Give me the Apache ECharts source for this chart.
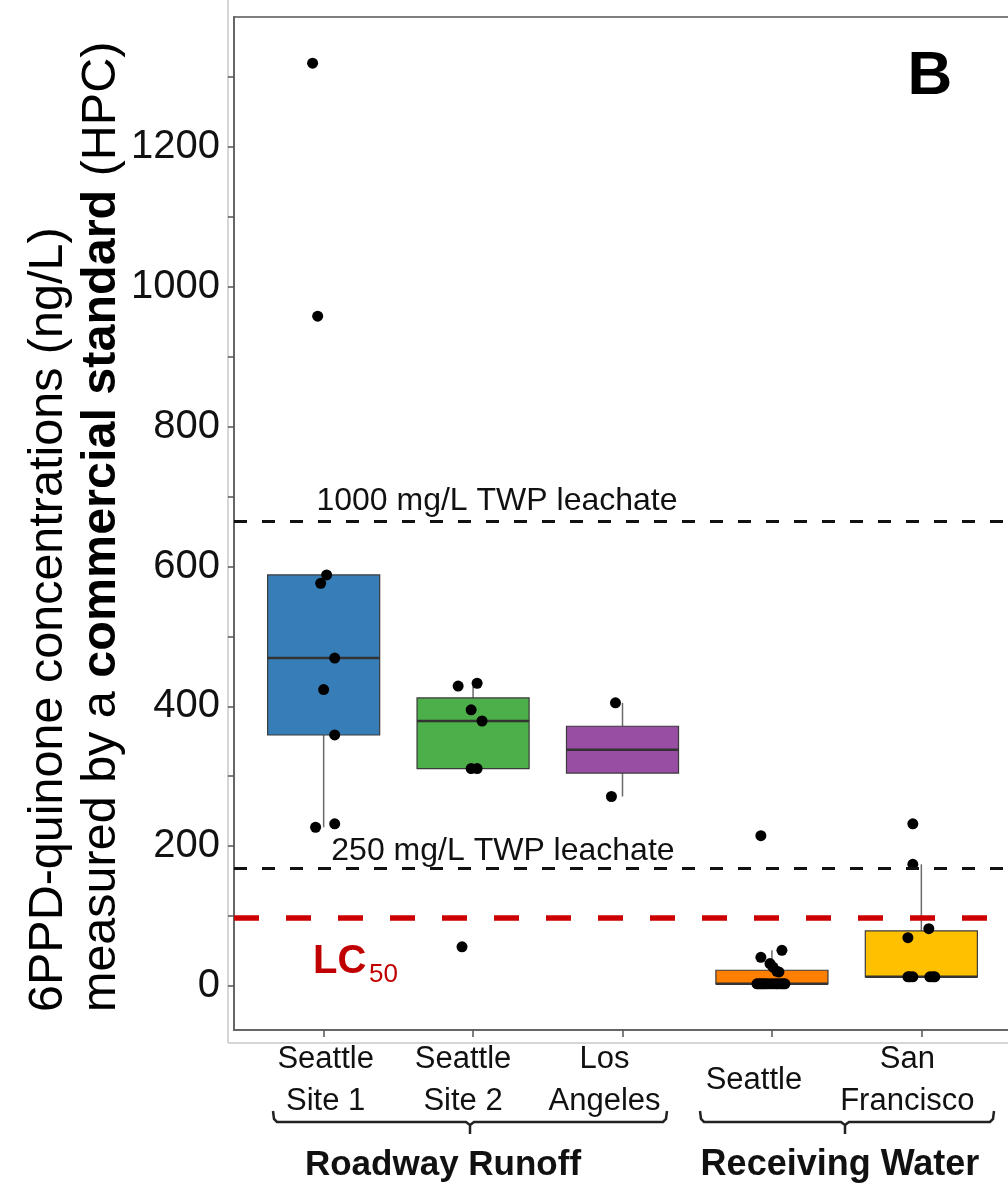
<!DOCTYPE html>
<html>
<head>
<meta charset="utf-8">
<title>6PPD-quinone (HPC)</title>
<script src="https://cdn.jsdelivr.net/npm/echarts@6.0.0/dist/echarts.min.js"></script>
<style>
  html, body { margin: 0; padding: 0; background: #fff; }
  #main { width: 1008px; height: 1187px; }
</style>
</head>
<body>
<div id="main"></div>
<script>
// sites along the x axis
var categories = ['Seattle\nSite 1', 'Seattle\nSite 2', 'Los\nAngeles', 'Seattle', 'San\nFrancisco'];
var groupNames = ['Roadway Runoff', 'Receiving Water'];
var boxColors = ['#377EB8', '#4DAF4A', '#984EA3', '#FF7F00', '#FFC000'];

// measured concentrations (ng/L) and jitter (in category units)
var seattleSite1 = [1320, 958, 588, 576, 469, 424, 359, 227, 232];
var seattleSite1Jitter = [-0.074, -0.04, 0.02, -0.02, 0.074, 0, 0.074, -0.054, 0.074];
var seattleSite2 = [429, 433, 395, 379, 311, 311, 56];
var seattleSite2Jitter = [-0.1, 0.027, -0.013, 0.06, -0.013, 0.027, -0.074];
var losAngeles = [405, 271];
var losAngelesJitter = [-0.047, -0.074];
var seattleRW = [215, 51, 41, 32, 27, 21, 20, 3, 3, 3, 3, 3, 3, 3, 3, 3, 3, 3, 3, 3];
var seattleRWJitter = [-0.074, 0.067, -0.074, -0.013, 0.007, 0.033, 0.047,
  -0.1, -0.087, -0.074, -0.06, -0.047, -0.033, -0.013, 0.007, 0.027, 0.04, 0.06, 0.074, 0.087];
var sanFrancisco = [232, 174, 82, 69, 13, 13, 13, 13, 13, 13];
var sanFranciscoJitter = [-0.057, -0.057, 0.05, -0.09, -0.09, -0.077, -0.057, 0.057, 0.077, 0.09];

// reference levels: 1000 mg/L leachate, 250 mg/L leachate, LC50
var refLines = [665, 168, 97];
var refLabels = ['1000 mg/L TWP leachate', '250 mg/L TWP leachate'];

var yTicks = [0, 100, 200, 300, 400, 500, 600, 700, 800, 900, 1000, 1100, 1200, 1300];
var yLabels = [0, 200, 400, 600, 800, 1000, 1200];
var xTicks = [1, 2, 3, 4, 5];

var allValues = [seattleSite1, seattleSite2, losAngeles, seattleRW, sanFrancisco];
var allJitter = [seattleSite1Jitter, seattleSite2Jitter, losAngelesJitter, seattleRWJitter, sanFranciscoJitter];

var FONT = '"Liberation Sans", Arial, sans-serif';

// quantile like R type 7
function quantile(sorted, p) {
  var pos = (sorted.length - 1) * p;
  var lo = Math.floor(pos);
  var hi = Math.ceil(pos);
  return sorted[lo] + (sorted[hi] - sorted[lo]) * (pos - lo);
}

function boxStats(values, x) {
  var s = values.slice().sort(function (a, b) { return a - b; });
  var q1 = quantile(s, 0.25), med = quantile(s, 0.5), q3 = quantile(s, 0.75);
  var iqr = q3 - q1;
  var lo = s.filter(function (v) { return v >= q1 - 1.5 * iqr; })[0];
  var up = s.filter(function (v) { return v <= q3 + 1.5 * iqr; });
  var hi = up[up.length - 1];
  return [x, lo, q1, med, q3, hi];
}

var boxData = allValues.map(function (vals, i) { return boxStats(vals, i + 1); });

var pointData = [];
allValues.forEach(function (vals, i) {
  vals.forEach(function (v, j) {
    pointData.push([i + 1 + allJitter[i][j], v]);
  });
});

function renderBox(params, api) {
  var x = api.value(0);
  var hw = 0.375;
  var lo = api.coord([x, api.value(1)]);
  var q1 = api.coord([x - hw, api.value(2)]);
  var m1 = api.coord([x - hw, api.value(3)]);
  var m2 = api.coord([x + hw, api.value(3)]);
  var q3 = api.coord([x + hw, api.value(4)]);
  var hi = api.coord([x, api.value(5)]);
  var whisker = { stroke: '#6b6b6b', lineWidth: 1.5 };
  return {
    type: 'group',
    children: [
      { type: 'line', shape: { x1: lo[0], y1: lo[1], x2: lo[0], y2: q1[1] }, style: whisker },
      { type: 'line', shape: { x1: hi[0], y1: q3[1], x2: hi[0], y2: hi[1] }, style: whisker },
      { type: 'rect', shape: { x: q1[0], y: q3[1], width: q3[0] - q1[0], height: q1[1] - q3[1] },
        style: { fill: boxColors[params.dataIndex], stroke: '#3a3a3a', lineWidth: 1.2 } },
      { type: 'line', shape: { x1: m1[0], y1: m1[1], x2: m2[0], y2: m2[1] },
        style: { stroke: '#333', lineWidth: 2.5 } }
    ]
  };
}

// label shifts (right padding) so labels sit like in the figure
var labelPad = [[0, 0, 0, 4], [0, 20, 0, 0], [0, 36, 0, 0], [0, 36, 0, 0], [0, 28, 0, 0]];
var richX = {};
labelPad.forEach(function (p, i) {
  richX['c' + i] = { fontSize: 31, lineHeight: 42, fontFamily: FONT, color: '#111', padding: p };
});

var chart = echarts.init(document.getElementById('main'), null, { renderer: 'canvas' });

var option = {
  backgroundColor: '#fff',
  animation: false,
  grid: {
    left: 234,
    top: 17,
    right: -3,
    bottom: 157,
    containLabel: false,
    outerBoundsMode: 'none',
    show: true,
    borderColor: '#7f7f7f',
    borderWidth: 2
  },
  xAxis: {
    type: 'value',
    min: 0.4,
    max: 5.6,
    splitLine: { show: false },
    axisLine: { show: true, onZero: false, lineStyle: { color: '#666', width: 2 } },
    axisTick: { show: true, customValues: xTicks, length: 7, lineStyle: { color: '#555', width: 1.5 } },
    axisLabel: {
      customValues: xTicks,
      margin: 50,
      verticalAlign: 'middle',
      formatter: function (v) {
        var i = Math.round(v) - 1;
        return categories[i].split('\n').map(function (s) {
          return '{c' + i + '|' + s + '}';
        }).join('\n');
      },
      rich: richX
    }
  },
  yAxis: {
    type: 'value',
    min: -63,
    max: 1386,
    splitLine: { show: false },
    axisLine: { show: true, onZero: false, lineStyle: { color: '#666', width: 2 } },
    axisTick: { show: true, customValues: yTicks, length: 6, lineStyle: { color: '#555', width: 1.5 } },
    axisLabel: {
      customValues: yLabels,
      margin: 14,
      fontSize: 40,
      fontFamily: FONT,
      color: '#111',
      formatter: function (v) { return String(v); }
    }
  },
  series: [
    {
      type: 'custom',
      name: 'box',
      renderItem: renderBox,
      data: boxData,
      encode: { x: 0, y: [1, 2, 3, 4, 5] },
      z: 2
    },
    {
      type: 'scatter',
      name: 'points',
      data: pointData,
      symbolSize: 11,
      itemStyle: { color: '#000', opacity: 1 },
      z: 4,
      markLine: {
        silent: true,
        symbol: ['none', 'none'],
        label: { show: false },
        data: [
          { yAxis: refLines[0], lineStyle: { color: '#111', type: [13, 15], width: 3 } },
          { yAxis: refLines[1], lineStyle: { color: '#111', type: [13, 15], width: 3 } },
          { yAxis: refLines[2], lineStyle: { color: '#CC0000', type: [25, 27], width: 5.5 } }
        ]
      }
    }
  ]
};

chart.setOption(option);

// annotations placed from the axes
function px(x, y) { return chart.convertToPixel({ gridIndex: 0 }, [x, y]); }

var l1 = px(2.16, refLines[0]);
var l2 = px(2.2, refLines[1]);
var lc = px(0.93, refLines[2]);

function brace(x0, x1, xc, y) {
  var c = '#222';
  return [
    { type: 'polyline', shape: { points: [[x0, y - 11], [x0 + 1, y - 3], [x0 + 4, y], [xc - 4, y], [xc, y + 3], [xc, y + 12]] },
      style: { stroke: c, lineWidth: 2.5, fill: null } },
    { type: 'polyline', shape: { points: [[xc, y + 3], [xc + 4, y], [x1 - 4, y], [x1 - 1, y - 3], [x1, y - 11]] },
      style: { stroke: c, lineWidth: 2.5, fill: null } }
  ];
}

var graphics = [
  // outer figure frame lines
  { type: 'line', shape: { x1: 228, y1: 0, x2: 228, y2: 1043 }, style: { stroke: '#c8c8c8', lineWidth: 1.5 } },
  { type: 'line', shape: { x1: 228, y1: 1043, x2: 1008, y2: 1043 }, style: { stroke: '#c8c8c8', lineWidth: 1.5 } },
  // y axis title
  {
    type: 'text', x: 75, y: 1012, rotation: Math.PI / 2,
    style: {
      text: '{n|6PPD-quinone concentrations (ng/L)}\n{n|measured by a }{b|commercial standard}{n| (HPC)}',
      align: 'left', verticalAlign: 'middle',
      rich: {
        n: { fontSize: 48.5, lineHeight: 53, fontFamily: FONT, color: '#111' },
        b: { fontSize: 48.5, lineHeight: 53, fontFamily: FONT, fontWeight: 'bold', color: '#111' }
      }
    }
  },
  // panel letter
  { type: 'text', x: 930, y: 77, style: { text: 'B', fontSize: 62, fontWeight: 'bold', fontFamily: FONT, fill: '#000', align: 'center', verticalAlign: 'middle' } },
  // leachate labels
  { type: 'text', x: l1[0], y: l1[1] - 20, style: { text: refLabels[0], fontSize: 32, fontFamily: FONT, fill: '#111', align: 'center', verticalAlign: 'middle' } },
  { type: 'text', x: l2[0], y: l2[1] - 17, style: { text: refLabels[1], fontSize: 32, fontFamily: FONT, fill: '#111', align: 'center', verticalAlign: 'middle' } },
  // LC50
  { type: 'text', x: 313, y: lc[1] + 44, style: { text: 'LC', fontSize: 40, fontWeight: 'bold', fontFamily: FONT, fill: '#C00000', align: 'left', verticalAlign: 'middle' } },
  { type: 'text', x: 369, y: lc[1] + 57, style: { text: '50', fontSize: 26, fontFamily: FONT, fill: '#C00000', align: 'left', verticalAlign: 'middle' } },
  // group labels
  { type: 'text', x: 443, y: 1165, style: { text: groupNames[0], fontSize: 35, fontWeight: 'bold', fontFamily: FONT, fill: '#111', align: 'center', verticalAlign: 'middle' } },
  { type: 'text', x: 840, y: 1165, style: { text: groupNames[1], fontSize: 36, fontWeight: 'bold', fontFamily: FONT, fill: '#111', align: 'center', verticalAlign: 'middle' } }
].concat(brace(273, 667, 470, 1122)).concat(brace(700, 994, 845, 1122));

chart.setOption({ graphic: { elements: graphics } });
</script>
</body>
</html>
